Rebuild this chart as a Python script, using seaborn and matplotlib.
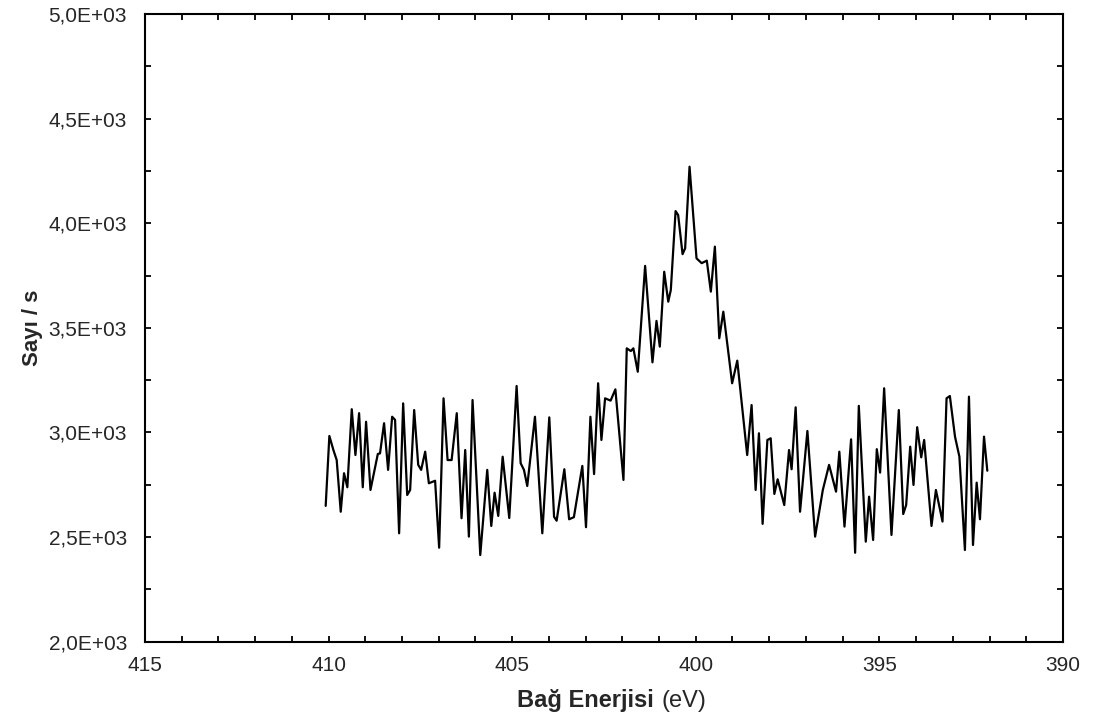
import matplotlib
matplotlib.use("Agg")
import matplotlib.pyplot as plt
import seaborn as sns
import pandas as pd
from matplotlib.ticker import MultipleLocator, FuncFormatter
from matplotlib.offsetbox import TextArea, HPacker, AnnotationBbox

# Bağlanma enerjisi (eV) ve sayım değerleri, grafikten okunan tepe/çukur noktaları
enerji = [410.08, 409.98, 409.87, 409.78, 409.67, 409.58, 409.49, 409.37, 409.27, 409.17,
          409.07, 408.98, 408.86, 408.66, 408.60, 408.49, 408.38, 408.27, 408.19, 408.08,
          407.97, 407.86, 407.78, 407.67, 407.56, 407.48, 407.37, 407.27, 407.10, 406.99,
          406.87, 406.76, 406.65, 406.51, 406.38, 406.28, 406.18, 406.08, 405.87, 405.68,
          405.57, 405.48, 405.38, 405.26, 405.08, 404.88, 404.77, 404.68, 404.59, 404.38,
          404.18, 403.99, 403.86, 403.79, 403.58, 403.45, 403.32, 403.09, 402.99, 402.87,
          402.77, 402.66, 402.57, 402.47, 402.32, 402.19, 401.97, 401.88, 401.77, 401.70,
          401.58, 401.38, 401.18, 401.07, 400.98, 400.86, 400.75, 400.68, 400.55, 400.48,
          400.36, 400.29, 400.17, 399.98, 399.84, 399.70, 399.59, 399.48, 399.36, 399.25,
          399.01, 398.87, 398.60, 398.48, 398.37, 398.28, 398.18, 398.05, 397.96, 397.86,
          397.77, 397.59, 397.46, 397.39, 397.28, 397.16, 396.96, 396.75, 396.54, 396.37,
          396.18, 396.09, 395.95, 395.77, 395.66, 395.56, 395.37, 395.28, 395.17, 395.07,
          394.98, 394.87, 394.67, 394.47, 394.35, 394.27, 394.16, 394.07, 393.97, 393.86,
          393.78, 393.58, 393.46, 393.28, 393.17, 393.08, 392.94, 392.82, 392.67, 392.56,
          392.45, 392.35, 392.26, 392.15, 392.06]
sayim = [2649, 2983, 2916, 2868, 2621, 2805, 2738, 3111, 2892, 3092,
         2738, 3051, 2725, 2897, 2900, 3044, 2821, 3075, 3060, 2518,
         3139, 2701, 2725, 3107, 2845, 2821, 2908, 2757, 2769, 2449,
         3163, 2868, 2868, 3092, 2590, 2916, 2502, 3155, 2414, 2821,
         2553, 2712, 2601, 2884, 2591, 3222, 2853, 2821, 2744, 3075,
         2518, 3072, 2597, 2578, 2824, 2585, 2595, 2840, 2547, 3075,
         2801, 3235, 2964, 3163, 3152, 3206, 2773, 3402, 3389, 3402,
         3290, 3796, 3335, 3533, 3410, 3768, 3625, 3681, 4058, 4039,
         3852, 3880, 4270, 3832, 3809, 3821, 3673, 3888, 3450, 3577,
         3235, 3343, 2892, 3131, 2725, 2996, 2563, 2964, 2972, 2706,
         2776, 2653, 2916, 2824, 3120, 2621, 3007, 2502, 2725, 2845,
         2717, 2908, 2550, 2967, 2425, 3127, 2478, 2693, 2486, 2920,
         2808, 3211, 2510, 3107, 2610, 2653, 2932, 2749, 3025, 2881,
         2964, 2553, 2725, 2574, 3163, 3174, 2980, 2884, 2438, 3171,
         2462, 2760, 2585, 2980, 2817]

df = pd.DataFrame({"enerji": enerji, "sayim": sayim})

sns.set_style("ticks")
plt.rcParams['font.family'] = ['Liberation Sans', 'DejaVu Sans']

fig = plt.figure(figsize=(10.93, 7.2), dpi=100)
ax = fig.add_axes([0.1327, 0.1088, 0.8398, 0.8718])

sns.lineplot(data=df, x="enerji", y="sayim", sort=False, color="black",
             linewidth=1.6, ax=ax)

ax.set_xlim(415, 390)
ax.set_ylim(2000, 5000)
ax.xaxis.set_major_locator(MultipleLocator(5))
ax.xaxis.set_minor_locator(MultipleLocator(1))
ax.yaxis.set_major_locator(MultipleLocator(500))
ax.yaxis.set_minor_locator(MultipleLocator(250))
ax.yaxis.set_major_formatter(FuncFormatter(lambda v, p: f"{v:.1E}".replace('.', ',')))
ax.xaxis.set_major_formatter(FuncFormatter(lambda v, p: f"{v:.0f}"))

for side in ax.spines.values():
    side.set_linewidth(1.5)
    side.set_color("black")
ax.tick_params(which="both", direction="in", top=True, right=True,
               length=4, width=1.3, color="black")
ax.tick_params(axis="y", which="major", labelsize=15, pad=13)
ax.tick_params(axis="x", which="major", labelsize=15, pad=10)

ax.set_xlabel("")
ax.set_ylabel("Sayı / s", fontsize=16, fontweight="bold", labelpad=4)

# x ekseni başlığı: kalın + normal parça
baslik = HPacker(children=[TextArea("Bağ Enerjisi", textprops=dict(fontsize=17, fontweight="bold")),
                           TextArea("(eV)", textprops=dict(fontsize=17))],
                 align="baseline", pad=0, sep=5)
ab = AnnotationBbox(baslik, (0.5597, 0.027), xycoords="figure fraction",
                    frameon=False, box_alignment=(0.5, 0.5))
fig.add_artist(ab)

fig.savefig("out.png", dpi=100)
